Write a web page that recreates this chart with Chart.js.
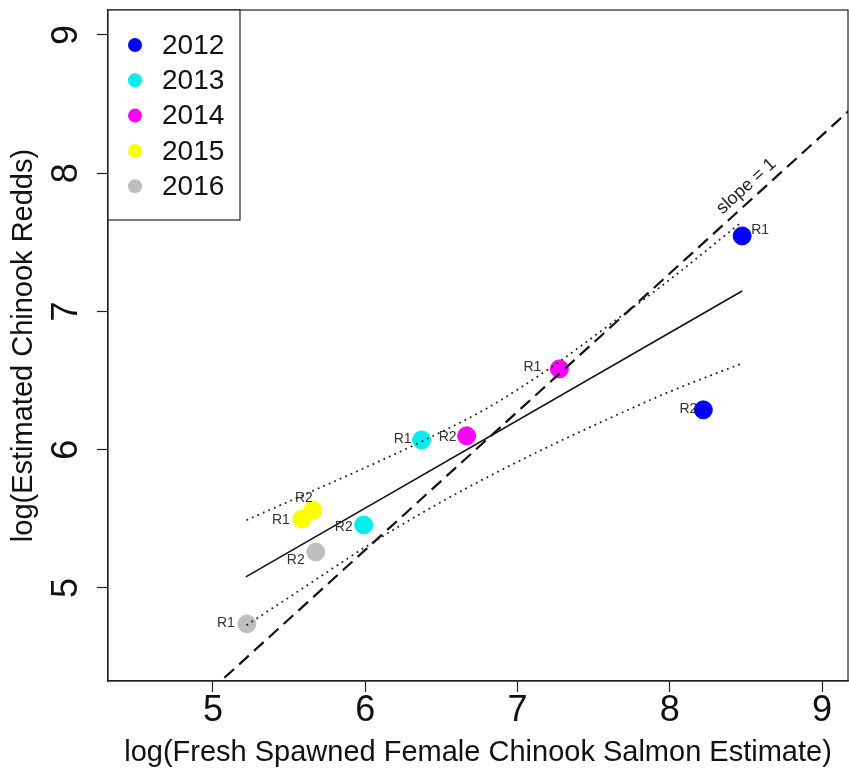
<!DOCTYPE html>
<html>
<head>
<meta charset="utf-8">
<script src="https://cdn.jsdelivr.net/npm/chart.js@4.4.0/dist/chart.umd.min.js"></script>
<style>
  body { margin: 0; background: #fff; }
  #wrap { width: 849px; height: 779px; }
</style>
</head>
<body>
<div id="wrap"><canvas id="grafico" width="849" height="779"></canvas></div>
<script>
// anos e cores da legenda
var anos = ['2012', '2013', '2014', '2015', '2016'];
var cores = ['#0000ff', '#00eeee', '#ff00ff', '#ffff00', '#bebebe'];

// pontos R1 e R2 de cada ano (x = log femeas, y = log redds)
var femeasR1 = [8.475, 6.37, 7.275, 5.584, 5.223];
var reddsR1 = [7.546, 6.07, 6.584, 5.499, 4.74];
var femeasR2 = [8.22, 5.99, 6.666, 5.656, 5.675];
var reddsR2 = [6.288, 5.456, 6.10, 5.564, 5.26];
var rotulos = ['R1', 'R2'];

// reta de regressao e intervalo de confianca
var regX = [5.216, 8.475];
var regY = [5.08, 7.148];
var icX = [5.22, 5.6, 6.0, 6.4, 6.8, 7.2, 7.6, 8.0, 8.475];
var icSup = [5.49, 5.675, 5.87, 6.075, 6.30, 6.58, 6.90, 7.23, 7.65];
var icInf = [4.73, 5.005, 5.295, 5.56, 5.80, 6.02, 6.225, 6.42, 6.625];

// linha de inclinacao 1
var slopeX = [4.2, 9.3];
var slopeY = [3.475, 8.575];

var ticksX = [5, 6, 7, 8, 9];
var ticksY = [5, 6, 7, 8, 9];

// deslocamento dos rotulos R1/R2 em pixels (estilo, nao dado)
var offR1 = [[9, -6, 'left'], [-10, -1, 'right'], [-18, -2, 'right'], [-12, 1, 'right'], [-12, -1, 'right']];
var offR2 = [[-6, -1, 'right'], [-11, 2, 'right'], [-10, 1, 'right'], [0, -12, 'right'], [-11, 8, 'right']];

var fonte = '"Liberation Sans", Arial, Helvetica, sans-serif';

function pares(xs, ys) {
    var r = [];
    for (var i = 0; i < xs.length; i++) r.push({ x: xs[i], y: ys[i] });
    return r;
}

var datasets = [];
datasets.push({ type: 'line', data: pares(regX, regY), borderColor: '#111', borderWidth: 1.6, pointRadius: 0, showLine: true, order: 1 });
datasets.push({ type: 'line', data: pares(icX, icSup), borderColor: '#222', borderWidth: 1.8, borderDash: [1.8, 4.2], pointRadius: 0, showLine: true, cubicInterpolationMode: 'monotone', order: 1 });
datasets.push({ type: 'line', data: pares(icX, icInf), borderColor: '#222', borderWidth: 1.8, borderDash: [1.8, 4.2], pointRadius: 0, showLine: true, cubicInterpolationMode: 'monotone', order: 1 });
datasets.push({ type: 'line', data: pares(slopeX, slopeY), borderColor: '#111', borderWidth: 2.2, borderDash: [13, 7], pointRadius: 0, showLine: true, order: 1 });

for (var i = 0; i < anos.length; i++) {
    datasets.push({
        type: 'scatter',
        label: anos[i],
        data: [{ x: femeasR1[i], y: reddsR1[i] }, { x: femeasR2[i], y: reddsR2[i] }],
        backgroundColor: cores[i],
        borderColor: cores[i],
        pointRadius: 9,
        pointHoverRadius: 9,
        order: 2
    });
}

var desenhos = {
    id: 'desenhos',
    afterDatasetsDraw: function (chart) {
        var ctx = chart.ctx;
        var a = chart.chartArea;
        var sx = chart.scales.x, sy = chart.scales.y;
        ctx.save();

        // rotulos R1 / R2
        ctx.font = '14px ' + fonte;
        ctx.fillStyle = '#333';
        ctx.textBaseline = 'middle';
        for (var i = 0; i < anos.length; i++) {
            var px = sx.getPixelForValue(femeasR1[i]), py = sy.getPixelForValue(reddsR1[i]);
            ctx.textAlign = offR1[i][2];
            ctx.fillText(rotulos[0], px + offR1[i][0], py + offR1[i][1]);
            px = sx.getPixelForValue(femeasR2[i]); py = sy.getPixelForValue(reddsR2[i]);
            ctx.textAlign = offR2[i][2];
            ctx.fillText(rotulos[1], px + offR2[i][0], py + offR2[i][1]);
        }

        // texto slope = 1 ao longo da linha tracejada
        var x1 = sx.getPixelForValue(slopeX[0]), y1 = sy.getPixelForValue(slopeY[0]);
        var x2 = sx.getPixelForValue(slopeX[1]), y2 = sy.getPixelForValue(slopeY[1]);
        var ang = Math.atan2(y2 - y1, x2 - x1);
        var xv = 8.56;
        var yv = slopeY[0] + (xv - slopeX[0]) * (slopeY[1] - slopeY[0]) / (slopeX[1] - slopeX[0]);
        var tx = sx.getPixelForValue(xv) + 13 * Math.sin(ang);
        var ty = sy.getPixelForValue(yv) - 13 * Math.cos(ang);
        ctx.translate(tx, ty);
        ctx.rotate(ang);
        ctx.font = '18px ' + fonte;
        ctx.textAlign = 'center';
        ctx.fillStyle = '#222';
        ctx.fillText('slope = 1', 0, 0);
        ctx.setTransform(1, 0, 0, 1, 0, 0);

        // caixa do grafico
        ctx.strokeStyle = '#222';
        ctx.lineWidth = 1.2;
        ctx.strokeRect(a.left, a.top, a.right - a.left, a.bottom - a.top);

        // legenda
        var lx = a.left, ly = a.top, lw = 132, lh = 210;
        ctx.fillStyle = '#fff';
        ctx.fillRect(lx, ly, lw, lh);
        ctx.strokeRect(lx, ly, lw, lh);
        ctx.font = '28px ' + fonte;
        ctx.textAlign = 'left';
        ctx.textBaseline = 'middle';
        for (var k = 0; k < anos.length; k++) {
            var cy = ly + 35 + k * 35.3;
            ctx.fillStyle = cores[k];
            ctx.beginPath();
            ctx.arc(lx + 27, cy, 7, 0, Math.PI * 2);
            ctx.fill();
            ctx.fillStyle = '#111';
            ctx.fillText(anos[k], lx + 54, cy + 1);
        }
        ctx.restore();
    }
};

new Chart(document.getElementById('grafico'), {
    type: 'scatter',
    data: { datasets: datasets },
    options: {
        responsive: false,
        animation: false,
        layout: { autoPadding: false, padding: { top: 10, right: 1, left: 0, bottom: 0 } },
        plugins: { legend: { display: false }, tooltip: { enabled: false } },
        scales: {
            x: {
                type: 'linear',
                min: 4.311,
                max: 9.17,
                afterBuildTicks: function (s) { s.ticks = ticksX.map(function (v) { return { value: v }; }); },
                afterFit: function (s) { s.height = 98; s.paddingLeft = 0; s.paddingRight = 0; },
                grid: { drawOnChartArea: false, drawTicks: true, tickLength: 11, tickColor: '#222', tickWidth: 1.2 },
                border: { display: true, color: '#222', width: 1.2 },
                ticks: { font: { size: 36, family: fonte, lineHeight: 1 }, color: '#111', padding: 1, maxRotation: 0, autoSkip: false },
                title: { display: true, text: 'log(Fresh Spawned Female Chinook Salmon Estimate)', font: { size: 29, family: fonte, lineHeight: 1 }, color: '#111', padding: { top: 0, bottom: 12 } }
            },
            y: {
                type: 'linear',
                min: 4.327,
                max: 9.18,
                afterBuildTicks: function (s) { s.ticks = ticksY.map(function (v) { return { value: v }; }); },
                afterFit: function (s) { s.width = 108; s.paddingTop = 0; s.paddingBottom = 0; },
                grid: { drawOnChartArea: false, drawTicks: true, tickLength: 11, tickColor: '#222', tickWidth: 1.2 },
                border: { display: true, color: '#222', width: 1.2 },
                ticks: { font: { size: 36, family: fonte, lineHeight: 1 }, color: '#111', padding: 20, minRotation: 90, maxRotation: 90, crossAlign: 'center', autoSkip: false },
                title: { display: true, text: 'log(Estimated Chinook Redds)', font: { size: 29, family: fonte, lineHeight: 1 }, color: '#111', padding: { top: 9, bottom: 0 } }
            }
        }
    },
    plugins: [desenhos]
});
</script>
</body>
</html>
